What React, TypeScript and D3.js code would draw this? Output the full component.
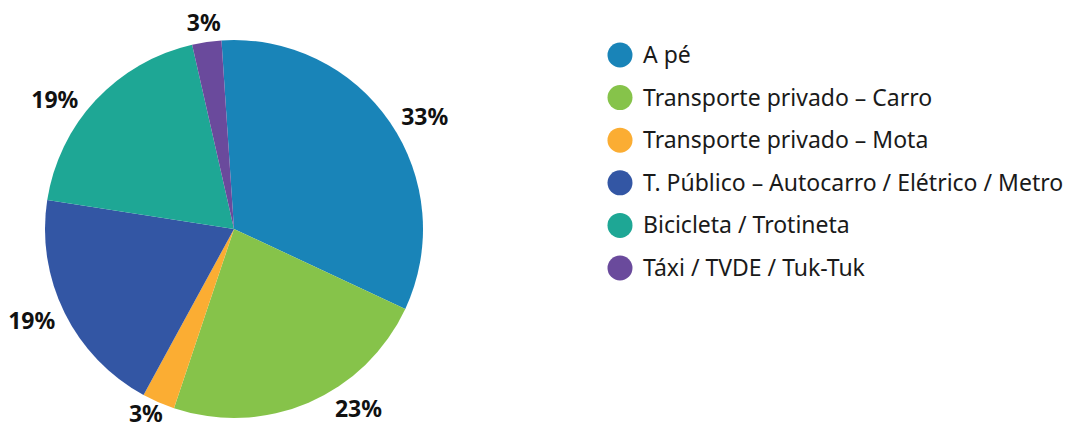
import React, { useRef, useEffect } from 'react';
import * as d3 from 'd3';

// Chart data
const categories = [
    'A pé',
    'Transporte privado – Carro',
    'Transporte privado – Mota',
    'T. Público – Autocarro / Elétrico / Metro',
    'Bicicleta / Trotineta',
    'Táxi / TVDE / Tuk-Tuk'
];
const values = [33.0, 23.2, 2.8, 19.5, 19.0, 2.5];
const labels = ['33%', '23%', '3%', '19%', '19%', '3%'];
const colors = ['#1984b8', '#86c34a', '#fbad33', '#3356a4', '#1ea795', '#6a4a9c'];

// Small angular nudges (degrees) for the outside labels, like the best-fit placement
const labelNudge = [3.7, -11.5, 0.9, 2, -7, 0];

const App = () => {
    const chartRef = useRef<SVGSVGElement | null>(null);

    useEffect(() => {
        const svg = d3.select(chartRef.current);
        svg.selectAll('*').remove();

        const height = 430;
        const cx = 234;
        const cy = 229;
        const radius = 189;
        const startAngle = (-3.8 * Math.PI) / 180;

        const data = categories.map((c, i) => ({ name: c, value: values[i], label: labels[i], color: colors[i] }));

        const pie = d3.pie<any>()
            .value(d => d.value)
            .sort(null)
            .startAngle(startAngle)
            .endAngle(startAngle + 2 * Math.PI);

        const arc = d3.arc<any>().innerRadius(0).outerRadius(radius);

        const g = svg.append('g').attr('transform', `translate(${cx},${cy})`);

        const arcs = pie(data);

        g.selectAll('path')
            .data(arcs)
            .join('path')
            .attr('d', arc)
            .attr('fill', d => d.data.color);

        // Outside-end labels: box edge just outside the rim
        const gap = 7;
        const fs = 23;
        arcs.forEach((d, i) => {
            const mid = (d.startAngle + d.endAngle) / 2 + (labelNudge[i] * Math.PI) / 180;
            const sx = Math.sin(mid);
            const cyv = -Math.cos(mid);
            const t = g.append('text')
                .attr('font-family', '"Noto Sans", sans-serif')
                .attr('font-weight', 'bold')
                .attr('font-size', fs)
                .attr('fill', '#111')
                .attr('text-anchor', 'middle')
                .attr('dominant-baseline', 'central')
                .text(d.data.label);
            const w = (t.node() as SVGTextElement).getComputedTextLength();
            const h = fs * 0.95;
            const dist = radius + gap + Math.abs(sx) * w / 2 + Math.abs(cyv) * h / 2;
            t.attr('x', dist * sx).attr('y', dist * cyv);
            // keep the label inside the picture
            const bb = (t.node() as SVGTextElement).getBBox();
            const over = cy + bb.y + bb.height - (height - 1);
            if (over > 0) t.attr('y', dist * cyv - over);
        });

        // Legend
        const legend = svg.append('g')
            .attr('transform', 'translate(620,55)')
            .selectAll('g')
            .data(data)
            .join('g')
            .attr('transform', (d, i) => `translate(0,${i * 42.6})`);

        legend.append('circle')
            .attr('r', 12.5)
            .attr('fill', d => d.color);

        legend.append('text')
            .attr('x', 23)
            .attr('dy', '0.35em')
            .attr('font-family', '"Noto Sans", sans-serif')
            .attr('font-size', 23)
            .attr('fill', '#1a1a1a')
            .text(d => d.name);
    }, []);

    return (
        <svg
            ref={chartRef}
            width={1071}
            height={430}
            style={{ position: 'absolute', left: 0, top: 0, background: '#fff' }}
        />
    );
};

export default App;
